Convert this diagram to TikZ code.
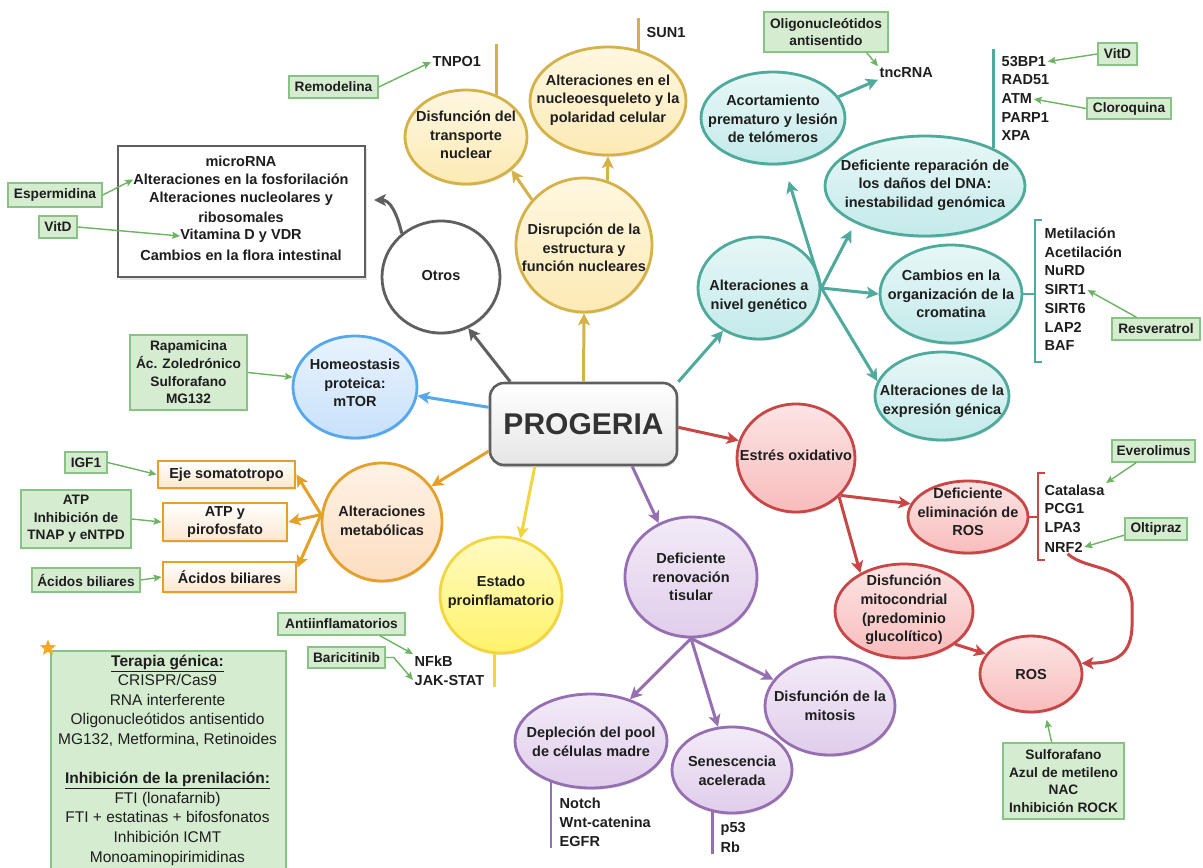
\documentclass[tikz,border=0pt]{standalone}
\usepackage{fontspec}
\setmainfont{Liberation Sans}
\usetikzlibrary{shapes.geometric,arrows.meta,shadows}

\definecolor{txtc}{RGB}{30,30,30}
\definecolor{tealc}{RGB}{78,170,155}
\definecolor{tealf}{RGB}{196,234,234}
\definecolor{goldc}{RGB}{213,178,72}
\definecolor{goldf}{RGB}{253,234,180}
\definecolor{yelc}{RGB}{242,214,64}
\definecolor{yelf}{RGB}{255,243,105}
\definecolor{grayc}{RGB}{95,95,95}
\definecolor{bluec}{RGB}{85,168,238}
\definecolor{bluef}{RGB}{200,225,250}
\definecolor{orc}{RGB}{228,160,40}
\definecolor{orf}{RGB}{253,222,192}
\definecolor{redc}{RGB}{200,70,70}
\definecolor{redf}{RGB}{248,188,188}
\definecolor{purc}{RGB}{150,110,178}
\definecolor{purf}{RGB}{224,205,235}
\definecolor{gboxf}{RGB}{213,236,208}
\definecolor{gboxd}{RGB}{135,195,130}
\definecolor{garc}{RGB}{108,180,98}
\definecolor{starc}{RGB}{245,170,30}

\tikzset{
  txt/.style={font=\bfseries\fontsize{14.5}{18.7}\selectfont, text=txtc, align=center, inner sep=0pt},
  lst/.style={font=\bfseries\fontsize{14.5}{19}\selectfont, text=txtc, anchor=west, inner sep=1.5pt},
  bub/.style 2 args={ellipse, draw=#1, line width=2.8pt, inner sep=0pt, top color=#2!40, bottom color=#2,
     drop shadow={opacity=0.2, shadow xshift=1pt, shadow yshift=-2pt}},
  progbox/.style={rectangle, rounded corners=14pt, draw=grayc, line width=2.6pt, top color=white, bottom color=black!10,
     font=\bfseries\fontsize{30}{36}\selectfont, text=black!80, inner sep=0pt,
     drop shadow={opacity=0.22, shadow xshift=1pt, shadow yshift=-2.5pt}},
  gbox/.style={rectangle, draw=gboxd, fill=gboxf, line width=1.5pt, font=\bfseries\fontsize{13.7}{17.7}\selectfont,
     text=txtc, align=center, inner sep=0pt, drop shadow={opacity=0.12, shadow xshift=1pt, shadow yshift=-1pt}},
  obox/.style={rectangle, draw=orc, line width=2.8pt, top color=white, bottom color=orf!75, font=\bfseries\fontsize{14.5}{18}\selectfont,
     text=txtc, align=center, inner sep=0pt, drop shadow={opacity=0.18, shadow xshift=1pt, shadow yshift=-1.5pt}},
  arr/.style={draw=#1, line width=3pt, -{Stealth[length=12pt,width=12pt,inset=3pt]}},
  garr/.style={draw=garc, line width=1.4pt, -{Stealth[length=8pt,width=7pt,inset=1.5pt]}},
  vbar/.style={draw=#1, line width=2.8pt}
}

\begin{document}
\begin{tikzpicture}[x=1pt,y=-1pt]
\useasboundingbox[fill=white] (0,0) rectangle (1203,868);

% ---------- centre ----------
\node[progbox, minimum width=187pt, minimum height=82pt] (prog) at (583.5,424) {PROGERIA};

% ---------- Otros ----------
\node[bub={grayc}{white}, minimum width=118pt, minimum height=112pt] (otros) at (441,277) {};
\node[txt] (otros-t) at (441,276) {Otros};
\node[rectangle, draw=grayc, line width=2.8pt, fill=white, minimum width=247pt, minimum height=131pt, inner sep=0pt,
  drop shadow={opacity=0.22, shadow xshift=1.5pt, shadow yshift=-2.5pt}] (obox) at (241.5,211.5) {};
\node[txt] (ob1) at (241,161) {microRNA};
\node[txt] (ob2) at (241,179.5) {Alteraciones en la fosforilación};
\node[txt] (ob3) at (241,198.5) {Alteraciones nucleolares y};
\node[txt] (ob4) at (241,217) {ribosomales};
\node[txt] (ob5) at (241,236) {Vitamina D y VDR};
\node[txt] (ob6) at (241,255) {Cambios en la flora intestinal};
\node[gbox, minimum width=94pt, minimum height=24pt] (esperm) at (55,195) {Espermidina};
\node[gbox, minimum width=38pt, minimum height=22pt] (vitdl) at (58,227) {VitD};
\coordinate (oarr) at (374,200);
\draw[arr=grayc] (prog.150) -- (otros.-62);
\draw[arr=grayc] (otros.132) .. controls (397,213) and (390,200) .. (oarr);
\draw[garr] (esperm.east) -- (ob2.west);
\draw[garr] (vitdl.east) -- (ob5.west);

% ---------- nuclear structure ----------
\node[bub={goldc}{goldf}, minimum width=136pt, minimum height=134pt] (disr) at (584,245) {};
\node[txt] (disr-t) at (584,248) {Disrupción de la\\estructura y\\función nucleares};
\node[bub={goldc}{goldf}, minimum width=122pt, minimum height=94pt] (transp) at (466,137) {};
\node[txt] (transp-t) at (466,135) {Disfunción del\\transporte\\nuclear};
\node[bub={goldc}{goldf}, minimum width=156pt, minimum height=108pt] (nucleo) at (608,101) {};
\node[txt] (nucleo-t) at (608,100) {Alteraciones en el\\nucleoesqueleto y la\\polaridad celular};
\node[lst] (tnpo1) at (431,62) {TNPO1};
\node[lst] (sun1) at (645,33) {SUN1};
\node[gbox, minimum width=89pt, minimum height=22pt] (remod) at (333.5,87) {Remodelina};
\draw[vbar=goldc] (transp.54) -- ++(0,-51);
\draw[vbar=goldc] (nucleo.59) -- ++(0,-32);
\draw[arr=goldc] (prog.north) -- (disr.south);
\draw[arr=goldc] (disr.139) -- (transp.324);
\draw[arr=goldc] (disr.70) -- (nucleo.south);
\draw[garr] (remod.east) -- (tnpo1.west);

% ---------- Homeostasis ----------
\node[bub={bluec}{bluef}, minimum width=124pt, minimum height=102pt] (homeo) at (355,387) {};
\node[txt] (homeo-t) at (355,383) {Homeostasis\\proteica:\\mTOR};
\node[gbox, minimum width=117pt, minimum height=75pt] (rapa) at (188.5,372.5) {Rapamicina\\Ác. Zoledrónico\\Sulforafano\\MG132};
\draw[arr=bluec] (prog.170) -- (homeo.352);
\draw[garr] (rapa.east) -- (homeo.171);

% ---------- Metabolic ----------
\node[bub={orc}{orf}, minimum width=120pt, minimum height=118pt] (metab) at (382,522) {};
\node[txt] (metab-t) at (382,521) {Alteraciones\\metabólicas};
\node[obox, minimum width=137pt, minimum height=27pt] (eje) at (226.5,474.5) {Eje somatotropo};
\node[obox, minimum width=124pt, minimum height=38pt] (atpo) at (225,522) {ATP y\\pirofosfato};
\node[obox, minimum width=133pt, minimum height=30pt] (acido) at (229.5,577) {Ácidos biliares};
\node[gbox, minimum width=42pt, minimum height=21pt] (igf1) at (86,462.5) {IGF1};
\node[gbox, minimum width=110pt, minimum height=58pt] (atpg) at (76,519) {ATP\\Inhibición de\\TNAP y eNTPD};
\node[gbox, minimum width=108pt, minimum height=24pt] (acidg) at (86,580) {Ácidos biliares};
\draw[arr=orc] (prog.196) -- (metab.36);
\draw[arr=orc] (metab.173) -- (eje.east);
\draw[arr=orc] (metab.173) -- (atpo.east);
\draw[arr=orc] (metab.173) -- (acido.8);
\draw[garr] (igf1.east) -- (eje.west);
\draw[garr] (atpg.east) -- (atpo.west);
\draw[garr] (acidg.east) -- (acido.west);

% ---------- Estado proinflamatorio ----------
\node[bub={yelc}{yelf}, minimum width=122pt, minimum height=116pt] (estado) at (501,595) {};
\node[txt] (estado-t) at (501,592) {Estado\\proinflamatorio};
\node[lst] (nfkb) at (413,661) {NFkB};
\node[lst] (jak) at (413,680) {JAK-STAT};
\node[gbox, minimum width=127pt, minimum height=22pt] (antiinf) at (341.5,624) {Antiinflamatorios};
\node[gbox, minimum width=77pt, minimum height=21pt] (baric) at (346.5,657.5) {Baricitinib};
\draw[arr=yelc] (prog.221) -- (estado.71);
\draw[vbar=yelc] (estado.264) -- (estado.264 |- jak.south);
\draw[garr] (antiinf.-17) -- (nfkb.north west);
\draw[garr] (baric.east) -- ++(8,0) -- (jak.west);

% ---------- Renovacion tisular ----------
\node[bub={purc}{purf}, minimum width=132pt, minimum height=120pt] (renov) at (691,577) {};
\node[txt] (renov-t) at (691,577) {Deficiente\\renovación\\tisular};
\node[bub={purc}{purf}, minimum width=152pt, minimum height=94pt] (deple) at (591,741) {};
\node[txt] (deple-t) at (591,742) {Depleción del pool\\de células madre};
\node[bub={purc}{purf}, minimum width=120pt, minimum height=86pt] (senes) at (732,770) {};
\node[txt] (senes-t) at (732,771) {Senescencia\\acelerada};
\node[bub={purc}{purf}, minimum width=130pt, minimum height=98pt] (mitos) at (830,706) {};
\node[txt] (mitos-t) at (830,706) {Disfunción de la\\mitosis};
\node[lst] (notch) at (558,803) {Notch};
\node[lst] (wnt) at (558,822) {Wnt-catenina};
\node[lst] (egfr) at (558,841) {EGFR};
\node[lst] (p53) at (719,829) {p53};
\node[lst] (rb) at (719,847) {Rb};
\draw[arr=purc] (prog.-41) -- (renov.121);
\draw[arr=purc] (renov.south) -- (deple.47);
\draw[arr=purc] (renov.south) -- (senes.108);
\draw[arr=purc] (renov.south) -- (mitos.155);
\draw[vbar=purc] (deple.226) -- (deple.226 |- egfr.south);
\draw[vbar=purc] (senes.245) -- (senes.245 |- rb.south);

% ---------- Genetic ----------
\node[bub={tealc}{tealf}, minimum width=122pt, minimum height=102pt] (genet) at (759,288) {};
\node[txt] (genet-t) at (759,296) {Alteraciones a\\nivel genético};
\node[bub={tealc}{tealf}, minimum width=144pt, minimum height=92pt] (acort) at (773,118) {};
\node[txt] (acort-t) at (773,119) {Acortamiento\\prematuro y lesión\\de telómeros};
\node[bub={tealc}{tealf}, minimum width=200pt, minimum height=100pt] (repar) at (925,186) {};
\node[txt] (repar-t) at (925,185) {Deficiente reparación de\\los daños del DNA:\\inestabilidad genómica};
\node[bub={tealc}{tealf}, minimum width=142pt, minimum height=98pt] (cromat) at (951,294) {};
\node[txt] (cromat-t) at (951,294) {Cambios en la\\organización de la\\cromatina};
\node[bub={tealc}{tealf}, minimum width=134pt, minimum height=88pt] (expres) at (942,396) {};
\node[txt] (expres-t) at (942,401) {Alteraciones de la\\expresión génica};
\node[lst] (tncrna) at (878,73) {tncRNA};
\node[gbox, minimum width=124pt, minimum height=40pt] (oligo) at (826,32) {Oligonucleótidos\\antisentido};
\draw[arr=tealc] (prog.24) -- (genet.230);
\draw[arr=tealc, shorten >=17pt] (genet.east) -- (acort.-77);
\draw[arr=tealc, shorten >=8pt] (genet.east) -- (repar.208);
\draw[arr=tealc] (genet.east) -- (cromat.west);
\draw[arr=tealc] (genet.east) -- (expres.167);
\draw[arr=tealc] (acort.18) -- (tncrna.south west);
\draw[garr] (oligo.-27) -- (tncrna.north west);
% DNA repair list
\node[lst] (bp) at (1000,61.5) {53BP1};
\node[lst] (rad) at (1000,80) {RAD51};
\node[lst] (atm) at (1000,99) {ATM};
\node[lst] (parp) at (1000,117.5) {PARP1};
\node[lst] (xpa) at (1000,136) {XPA};
\draw[vbar=tealc] (repar.29) -- ++(0,-99);
\node[gbox, minimum width=39pt, minimum height=22pt] (vitdr) at (1117.5,54) {VitD};
\node[gbox, minimum width=84pt, minimum height=21pt] (cloro) at (1129,108.5) {Cloroquina};
\draw[garr] (vitdr.west) -- (bp.east);
\draw[garr] (cloro.west) -- (atm.east);
% chromatin list
\node[lst] (metil) at (1043,233) {Metilación};
\node[lst] (acet) at (1043,252) {Acetilación};
\node[lst] (nurd) at (1043,271) {NuRD};
\node[lst] (sirt1) at (1043,290) {SIRT1};
\node[lst] (sirt6) at (1043,308.5) {SIRT6};
\node[lst] (lap2) at (1043,327) {LAP2};
\node[lst] (baf) at (1043,346) {BAF};
\draw[vbar=tealc] (1042,220) -- (1035,220) -- (1035,362) -- (1042,362);
\coordinate (cbr) at (1035,294);
\draw[vbar=tealc] (cromat.east) -- (cbr);
\node[gbox, minimum width=88pt, minimum height=22pt] (resv) at (1156,329) {Resveratrol};
\draw[garr] (resv.149) -- (sirt1.east);

% ---------- Oxidative stress ----------
\node[bub={redc}{redf}, minimum width=118pt, minimum height=108pt] (estres) at (796,458) {};
\node[txt] (estres-t) at (796,455) {Estrés oxidativo};
\node[bub={redc}{redf}, minimum width=120pt, minimum height=72pt] (elim) at (968,517) {};
\node[txt] (elim-t) at (968,512) {Deficiente\\eliminación de\\ROS};
\node[bub={redc}{redf}, minimum width=138pt, minimum height=94pt] (mito) at (904,611) {};
\node[txt] (mito-t) at (904,610) {Disfunción\\mitocondrial\\(predominio\\glucolítico)};
\node[bub={redc}{redf}, minimum width=102pt, minimum height=76pt] (ros) at (1031,674) {};
\node[txt] (ros-t) at (1031,674) {ROS};
\draw[arr=redc] (prog.358) -- (estres.163);
\draw[arr=redc] (estres.-40) -- (elim.167);
\draw[arr=redc] (estres.-42) -- (mito.139);
\draw[arr=redc] (mito.-33) -- (ros.156);
\node[lst] (catal) at (1043,490) {Catalasa};
\node[lst] (pcg1) at (1043,509) {PCG1};
\node[lst] (lpa3) at (1043,528) {LPA3};
\node[lst] (nrf2) at (1043,547) {NRF2};
\draw[vbar=redc] (1045,473) -- (1038,473) -- (1038,560) -- (1045,560);
\coordinate (rbr) at (1038,517);
\draw[vbar=redc] (elim.east) -- (rbr);
\node[gbox, minimum width=83pt, minimum height=22pt] (everol) at (1153.5,451) {Everolimus};
\node[gbox, minimum width=62pt, minimum height=22pt] (oltip) at (1156,529) {Oltipraz};
\draw[garr] (everol.214) -- (catal.north east);
\draw[garr] (oltip.191) -- (nrf2.east);
\draw[arr=redc] (nrf2.-60) .. controls (1088,572) and (1128,562) .. (1132,602) -- (1132,622)
   .. controls (1133,658) and (1112,663) .. (ros.12);
\node[gbox, minimum width=121pt, minimum height=76pt] (sulfo) at (1063.5,781) {Sulforafano\\Azul de metileno\\NAC\\Inhibición ROCK};
\draw[garr, shorten >=8pt] (sulfo.107) -- (ros.-70);

% ---------- Therapy box ----------
\node[rectangle, draw=gboxd, fill=gboxf, line width=1.5pt, minimum width=235pt, minimum height=240pt,
  anchor=north west, inner sep=0pt] (terapia) at (50,650) {};
\node[font=\fontsize{15.5}{19.6}\selectfont, text=txtc, align=center, inner sep=0pt] (terapia-t) at (167.5,760)
 {\textbf{\underline{Terapia génica:}}\\CRISPR/Cas9\\RNA interferente\\Oligonucleótidos antisentido\\MG132, Metformina, Retinoides\\[19.6pt]
  \textbf{\underline{Inhibición de la prenilación:}}\\FTI (lonafarnib)\\FTI + estatinas + bifosfonatos\\Inhibición ICMT\\Monoaminopirimidinas};
\node[star, star points=5, star point ratio=2.3, fill=starc, minimum size=17pt, inner sep=0pt] (star) at (48,648) {};
\end{tikzpicture}
\end{document}
